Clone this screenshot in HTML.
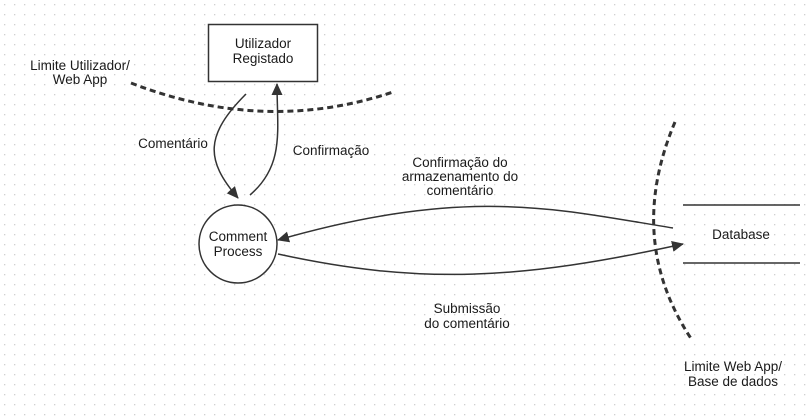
<!DOCTYPE html>
<html><head><meta charset="utf-8"><style>
html,body{margin:0;padding:0;background:#fff}
svg{display:block}
text{font-family:"Liberation Sans",sans-serif;font-size:13.5px;fill:#1a1a1a}
</style></head><body>
<svg width="810" height="420" viewBox="0 0 810 420" xmlns="http://www.w3.org/2000/svg">
<defs>
<pattern id="g" width="10" height="10" patternUnits="userSpaceOnUse"><rect x="4" y="4" width="1.3" height="1.3" fill="#cfcfcf"/></pattern>
<marker id="a" markerWidth="12" markerHeight="12" refX="11" refY="5.5" orient="auto" markerUnits="userSpaceOnUse"><path d="M0,0 L12,5.5 L0,11 Z" fill="#333"/></marker>
</defs>
<rect width="810" height="420" fill="url(#g)"/>
<rect x="208.5" y="24.5" width="109" height="57" fill="#fff" stroke="#333" stroke-width="1.5"/>
<text x="263" y="48" text-anchor="middle">Utilizador</text>
<text x="263" y="63" text-anchor="middle">Registado</text>
<path d="M131,83 Q265,135 393,92" fill="none" stroke="#333" stroke-width="3" stroke-dasharray="6,4"/>
<text x="80" y="70" text-anchor="middle">Limite Utilizador/</text>
<text x="80" y="84" text-anchor="middle">Web App</text>
<circle cx="238" cy="244" r="39" fill="#fff" stroke="#333" stroke-width="1.5"/>
<text x="238" y="241" text-anchor="middle">Comment</text>
<text x="238" y="256" text-anchor="middle">Process</text>
<path d="M246,94 C205,135 205,160 238,198" fill="none" stroke="#333" stroke-width="1.5" marker-end="url(#a)"/>
<path d="M250,195 C285,165 277,130 277,84" fill="none" stroke="#333" stroke-width="1.5" marker-end="url(#a)"/>
<text x="173" y="148" text-anchor="middle">Comentário</text>
<text x="331" y="155" text-anchor="middle">Confirmação</text>
<path d="M673,228 C560,210 470,185 278,240" fill="none" stroke="#333" stroke-width="1.5" marker-end="url(#a)"/>
<path d="M278,254 C420,285 520,280 683,244" fill="none" stroke="#333" stroke-width="1.5" marker-end="url(#a)"/>
<path d="M675,122 Q625,240 692,340" fill="none" stroke="#333" stroke-width="3" stroke-dasharray="6,4"/>
<line x1="683" y1="205" x2="800" y2="205" stroke="#333" stroke-width="1.5"/>
<line x1="683" y1="263" x2="800" y2="263" stroke="#333" stroke-width="1.5"/>
<text x="741" y="239" text-anchor="middle">Database</text>
<text x="460" y="167" text-anchor="middle">Confirmação do</text>
<text x="460" y="181" text-anchor="middle">armazenamento do</text>
<text x="460" y="195" text-anchor="middle">comentário</text>
<text x="467" y="313" text-anchor="middle">Submissão</text>
<text x="467" y="328" text-anchor="middle">do comentário</text>
<text x="733" y="371" text-anchor="middle">Limite Web App/</text>
<text x="733" y="386" text-anchor="middle">Base de dados</text>
</svg>
</body></html>
